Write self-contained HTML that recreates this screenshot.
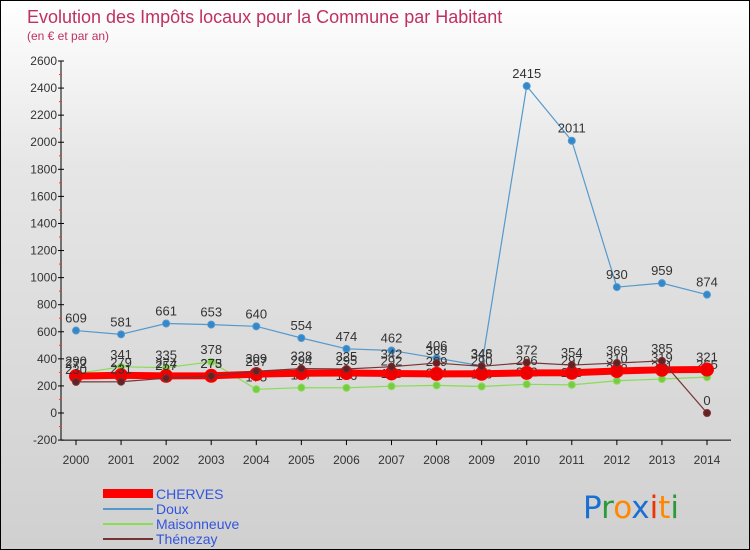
<!DOCTYPE html>
<html><head><meta charset="utf-8"><style>
body{margin:0}
#wrap{position:relative;width:750px;height:550px;background:linear-gradient(#ffffff 0%,#e6e6e6 30%,#d0d0d0 100%);font-family:"Liberation Sans",sans-serif;overflow:hidden;border:1px solid #000;box-sizing:border-box}
</style></head><body>
<div id="wrap">
<svg id="svg" width="750" height="550" style="position:absolute;left:0;top:0">
<text x="26" y="22" font-size="18" fill="#c03060">Evolution des Impôts locaux pour la Commune par Habitant</text>
<text x="26" y="39" font-size="12" fill="#c03060">(en € et par an)</text>
<g id="axes"></g><g id="series"></g>
<g>
<rect x="102" y="488" width="50" height="9" fill="#ff0000"/>
<text x="155" y="498" font-size="14" fill="#3355dd">CHERVES</text>
<line x1="102" y1="508" x2="152" y2="508" stroke="#5599cc" stroke-width="2"/>
<text x="155" y="513" font-size="14" fill="#3355dd">Doux</text>
<line x1="102" y1="523" x2="152" y2="523" stroke="#88dd55" stroke-width="2"/>
<text x="155" y="528" font-size="14" fill="#3355dd">Maisonneuve</text>
<line x1="102" y1="538" x2="152" y2="538" stroke="#773333" stroke-width="2"/>
<text x="155" y="543" font-size="14" fill="#3355dd">Thénezay</text>
</g>
<g font-size="31" font-family="DejaVu Sans,sans-serif">
<text x="582" y="517"><tspan fill="#1a70d0">P</tspan><tspan fill="#2a9a3a">r</tspan><tspan fill="#ff8800">o</tspan><tspan fill="#1a70d0">x</tspan><tspan fill="#ee3300">i</tspan><tspan fill="#ff8800">t</tspan><tspan fill="#2a9a3a">i</tspan></text>
</g>
</svg>
</div>
<script>
const years=[2000,2001,2002,2003,2004,2005,2006,2007,2008,2009,2010,2011,2012,2013,2014];
const cherves=[272,279,274,275,287,294,295,292,289,290,296,297,310,319,321];
const doux=[609,581,661,653,640,554,474,462,406,348,2415,2011,930,959,874];
const maisonneuve=[290,341,335,378,175,187,186,198,204,196,212,208,238,251,265];
const thenezay=[230,231,257,273,309,328,325,342,369,345,372,354,369,385,0];
const yTicks=[-200,0,200,400,600,800,1000,1200,1400,1600,1800,2000,2200,2400,2600];
const NS="http://www.w3.org/2000/svg";
const X=i=>75+i*(706-75)/14;
const Y=v=>412-v*(412-60)/2600;
function mk(tag,attrs,parent){const e=document.createElementNS(NS,tag);for(const k in attrs)e.setAttribute(k,attrs[k]);parent.appendChild(e);return e;}
const ax=document.getElementById('axes');
const yl=mk('line',{x1:60,y1:Y(2600),x2:60,y2:Y(-200),stroke:'#000'},ax);


const xl=mk('line',{x1:60,y1:Y(-200),x2:730,y2:Y(-200),stroke:'#000'},ax);


yTicks.forEach(t=>{
  mk('line',{x1:57,y1:Y(t),x2:63,y2:Y(t),stroke:'#000'},ax);
  if(t<2600) mk('line',{x1:58,y1:Y(t+100),x2:61,y2:Y(t+100),stroke:'#ff3333'},ax);
  const tx=mk('text',{x:56,y:Y(t)+4,'font-size':12,'text-anchor':'end',fill:'#333'},ax);
  tx.textContent=t;
  
  
});
years.forEach((yr,i)=>{
  mk('line',{x1:X(i),y1:Y(-200),x2:X(i),y2:Y(-200)+5,stroke:'#000'},ax);
  const tx=mk('text',{x:X(i),y:463,'font-size':12,'text-anchor':'middle',fill:'#333'},ax);
  tx.textContent=yr;
  
  
});
const sg=document.getElementById('series');
function series(data,color,width,r,ptFill,name){
  const g=mk('g',{},sg);
  
  
  mk('polyline',{points:data.map((v,i)=>X(i)+','+Y(v)).join(' '),fill:'none',stroke:color,'stroke-width':width},g);
  data.forEach((v,i)=>{
    const c=mk('circle',{cx:X(i),cy:Y(v),r:r,fill:ptFill,stroke:color,'stroke-width':1},g);
    
    
    const t=mk('text',{x:X(i),y:Y(v)-8,'font-size':13,'text-anchor':'middle',fill:'#333'},g);
    t.textContent=v;
  });
}
series(doux,'#5599cc',1.2,3.5,'#3388cc','doux');
series(maisonneuve,'#88dd55',1.2,3.5,'#77cc44','maisonneuve');
series(cherves,'#ff0000',7,6.5,'#ee0000','cherves');
series(thenezay,'#773333',1.2,3.5,'#662222','thenezay');
</script>
</body></html>
